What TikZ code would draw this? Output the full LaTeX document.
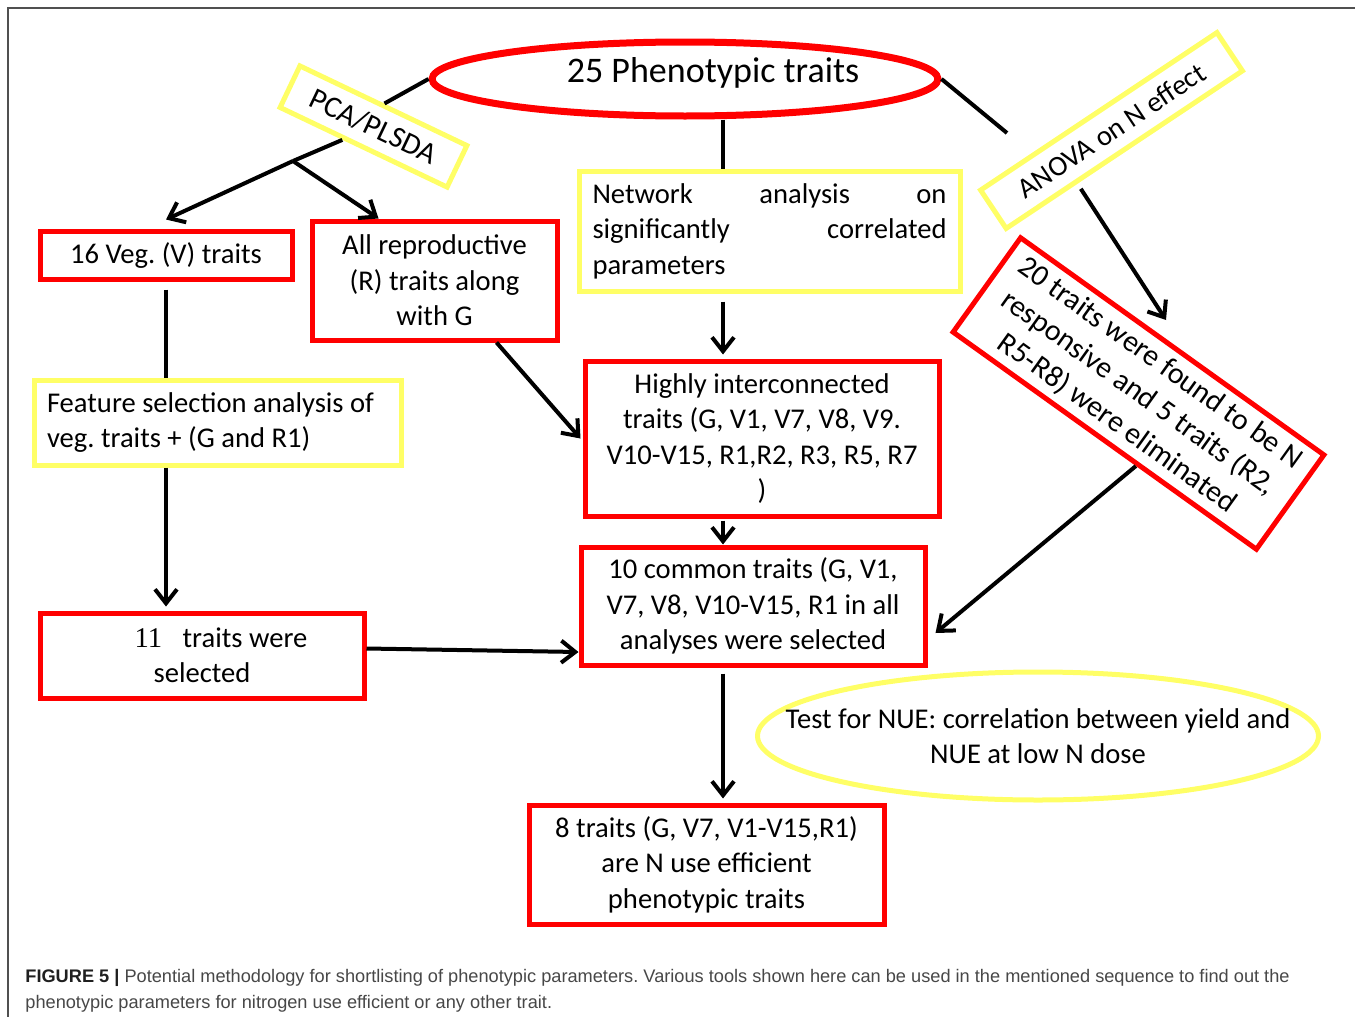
\documentclass[tikz,border=0pt]{standalone}
\usepackage{fontspec}
\setmainfont{Carlito}
\newfontfamily\capfont{Liberation Sans}
\newfontfamily\numfont{Liberation Serif}
\frenchspacing
\usetikzlibrary{arrows.meta,calc,positioning,shapes.geometric}
\definecolor{boxred}{RGB}{255,0,0}
\definecolor{boxyellow}{RGB}{255,255,102}
\definecolor{framegray}{RGB}{80,80,80}
\tikzset{
redbox/.style 2 args={
  rectangle,
  draw=boxred,
  line width=2.5pt,
  minimum width=#1,
  minimum height=#2,
  inner sep=0pt,
  align=flush center,
  font=\fontsize{14.3}{17.75}\selectfont
  },
yellowbox/.style 2 args={
  redbox={#1}{#2},
  draw=boxyellow
  },
link/.style={draw=black,line width=2pt},
flow/.style={link,-{Straight Barb[length=7pt,width=11pt]}}
}

\begin{document}
\begin{tikzpicture}[x=0.5pt,y=-0.5pt]

\useasboundingbox (0,0) rectangle (1355,1017);

\draw[framegray,line width=1pt] (8,1017) -- (8,8) -- (1355,8);

\node[ellipse,draw=boxred,line width=3.5pt,
    minimum width=253pt,minimum height=37pt,inner sep=0pt]
at (685,79)
(pheno) {};

\node[font=\fontsize{18}{22}\selectfont]
at ([xshift=14pt,yshift=3pt]pheno.center)
(phenotext) {25 Phenotypic traits};

\node[yellowbox={92.5pt}{23pt},rotate=-25.5,
    font=\fontsize{15}{18}\selectfont]
at (373.5,126.5)
(pca) {PCA/PLSDA};

\node[redbox={126pt}{24pt}] at (166,255) (veg) {16 Veg. (V) traits};

\node[redbox={122.5pt}{59.5pt}]
at (434.5,280.5)
(repro) {All reproductive\\(R) traits along\\with G};

\node[yellowbox={190.5pt}{60pt},text width=177pt,
    align=flush left,inner xsep=6.75pt]
at (769.5,231)
(network) {Network\hfill analysis\hfill on\\
  significantly\hfill correlated\\
  parameters};

\node[yellowbox={183.5pt}{42.5pt},text width=170.5pt,
    align=flush left,inner xsep=6.5pt]
at (217.5,422.5)
(feat) {Feature selection analysis of\\veg. traits + (G and R1)};

\node[redbox={162pt}{42.5pt}]
at (202,655.5)
(eleven) {\hspace*{19pt}{\numfont 11}\hspace{7pt} traits were\\selected};

\node[redbox={177pt}{77.5pt}]
at (762,438.5)
(highly) {Highly interconnected\\traits (G, V1, V7, V8, V9.\\
  V10-V15, R1,R2, R3, R5, R7\\)};

\node[redbox={172pt}{59pt}]
at (753,606)
(common) {10 common traits (G, V1,\\V7, V8, V10-V15, R1 in all\\
  analyses were selected};

\node[redbox={177.5pt}{59.5pt}]
at (706.5,864.5)
(eight) {8 traits (G, V7, V1-V15,R1)\\are N use efficient\\
  phenotypic traits};

\node[yellowbox={142pt}{23pt},rotate=33.7]
at (1111.5,130.5)
(anova) {ANOVA on N effect};

\node[redbox={186.5pt}{58pt},rotate=-35.6,
    font=\fontsize{15}{18.5}\selectfont]
at (1138.5,393.5)
(twenty) {20 traits were found to be N\\responsive and 5 traits (R2,\\
  R5-R8) were eliminated};

\node[ellipse,draw=boxyellow,line width=2.5pt,
    minimum width=280.5pt,minimum height=64pt,inner sep=0pt]
at (1038,736)
(nue) {};

\node[align=flush center,font=\fontsize{14.3}{17.75}\selectfont]
at (nue.center)
(nuetext) {Test for NUE: correlation between yield and\\NUE at low N dose};

\coordinate (split) at (293,161);
\coordinate (spine) at (723,0);
\coordinate (anovaend) at (1007,133);
\coordinate (twentytip) at (1166,320);

\draw[link] (pheno.west) -- (pca.north);
\draw[link] (pca) -- (split);
\draw[flow] (split) -- ([yshift=4.5pt]veg.north);
\draw[flow] (split) -- ([xshift=-28pt]repro.north);
\draw[flow] ([xshift=31pt]repro.south) -- ([xshift=-1pt]highly.west);

\draw[link,shorten <=4pt] (veg.south) -- (veg.south |- feat.north);
\draw[flow,shorten >=2pt] (veg.south |- feat.south) -- (veg.south |- eleven.north);
\draw[flow] ([yshift=3.5pt]eleven.east) -- ([yshift=-23pt]common.west);

\draw[link] (pheno.south -| spine) -- (network.north -| spine);
\draw[flow,shorten <=4pt,shorten >=2pt] (network.south -| spine) -- (highly.north -| spine);
\draw[flow,shorten <=1pt] (highly.south -| spine) -- (common.north -| spine);
\draw[flow,shorten <=3pt,shorten >=2pt] (common.south -| spine) -- (eight.north -| spine);

\draw[link] (pheno.east) -- (anovaend);
\draw[flow,shorten <=3pt] ($(anova.south west)!0.3!(anova.south east)$) -- (twentytip);
\draw[flow] ($(twenty.south west)!0.606!(twenty.south east)$)
  -- ([xshift=4pt,yshift=-13.5pt]common.east);

\node[anchor=north west,align=flush left,inner sep=0pt,text=black!72,
    font=\capfont\fontsize{9.1}{12.7}\selectfont]
at (25,969)
(caption) {\textbf{\color{black!88}FIGURE 5 |} Potential methodology for shortlisting of phenotypic parameters. Various tools shown here can be used in the mentioned sequence to find out the\\
  phenotypic parameters for nitrogen use efficient or any other trait.};

\end{tikzpicture}
\end{document}
